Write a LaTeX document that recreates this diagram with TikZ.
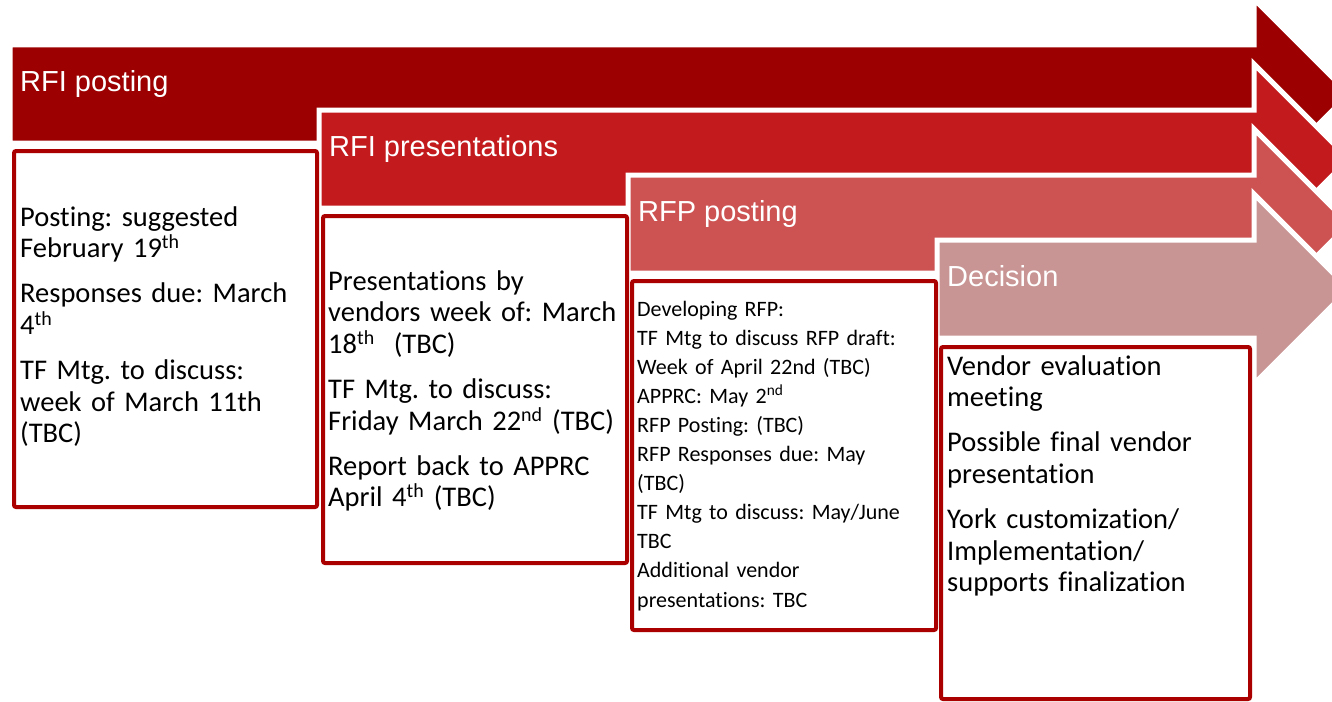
\documentclass[tikz,border=0pt]{standalone}
\usepackage{fontspec}
\setmainfont{Carlito}[Ligatures=NoCommon]
\newfontfamily\titlefont{Liberation Sans}
\usepackage{xcolor}
\definecolor{phaseA}{RGB}{156,0,0}
\definecolor{phaseB}{RGB}{195,26,29}
\definecolor{phaseC}{RGB}{205,83,83}
\definecolor{phaseD}{RGB}{201,148,148}
\definecolor{boxred}{RGB}{170,0,0}
\frenchspacing
\tikzset{
  phase/.style={fill=#1, draw=white, line width=5pt, line join=miter},
  infobox/.style={draw=boxred, fill=white, line width=4pt, rounded corners=2pt, anchor=north west, inner sep=0pt},
  phasetitle/.style={anchor=base west, inner sep=0pt, text=white, font=\titlefont\fontsize{29}{34}\selectfont},
  info/.style={anchor=base west, inner sep=0pt, text width=330pt, align=left, font=\fontsize{28.5}{31.8}\selectfont},
  smallinfo/.style={info, font=\fontsize{22}{29.1}\selectfont}
}

\begin{document}
\begin{tikzpicture}[x=1pt,y=-1pt]
	\useasboundingbox (0,0) rectangle (1332,701);
	\clip (0,0) rectangle (1332,701);
	% arrows
	\foreach \i/\col/\name in {0/phaseA/RFI posting, 1/phaseB/RFI presentations, 2/phaseC/RFP posting, 3/phaseD/Decision}{
		\pgfmathsetmacro\xl{10+309*\i}
		\pgfmathsetmacro\yt{45+65*\i}
		\filldraw[phase=\col] (\xl,\yt) -- (1254,\yt) -- (1254,\yt-46) -- (1349,\yt+49) -- (1254,\yt+144) -- (1254,\yt+98) -- (\xl,\yt+98) -- cycle;
		\node[phasetitle] (title\i) at (\xl+10,\yt+46) {\name};
	}
	% boxes
	\node[infobox, minimum width=303pt, minimum height=356pt] (box1) at (12,149) {};
	\node[infobox, minimum width=304pt, minimum height=347pt] (box2) at (321,214) {};
	\node[infobox, minimum width=304pt, minimum height=349pt] (box3) at (630,279) {};
	\node[infobox, minimum width=309pt, minimum height=352pt] (box4) at (939,345) {};
	% texts
	\node[info] (txt1) at (20,226) {Posting: suggested\\February 19\textsuperscript{th}\\[13pt]Responses due: March\\4\textsuperscript{th}\\[13pt]TF Mtg. to discuss:\\week of March 11th\\(TBC)};
	\node[info] (txt2) at (328,290) {Presentations by\\vendors week of: March\\18\textsuperscript{th}~~(TBC)\\[13pt]TF Mtg. to discuss:\\Friday March 22\textsuperscript{nd} (TBC)\\[13pt]Report back to APPRC\\April 4\textsuperscript{th} (TBC)};
	\node[smallinfo] (txt3) at (637,316) {Developing RFP:\\TF Mtg to discuss RFP draft:\\Week of April 22nd (TBC)\\APPRC: May 2\textsuperscript{nd}\\RFP Posting: (TBC)\\RFP Responses due: May\\(TBC)\\TF Mtg to discuss: May/June\\TBC\\Additional vendor\\presentations: TBC};
	\node[info] (txt4) at (947,375) {Vendor evaluation\\meeting\\[13pt]Possible final vendor\\presentation\\[13pt]York customization/\\Implementation/\\supports finalization};
\end{tikzpicture}
\end{document}
